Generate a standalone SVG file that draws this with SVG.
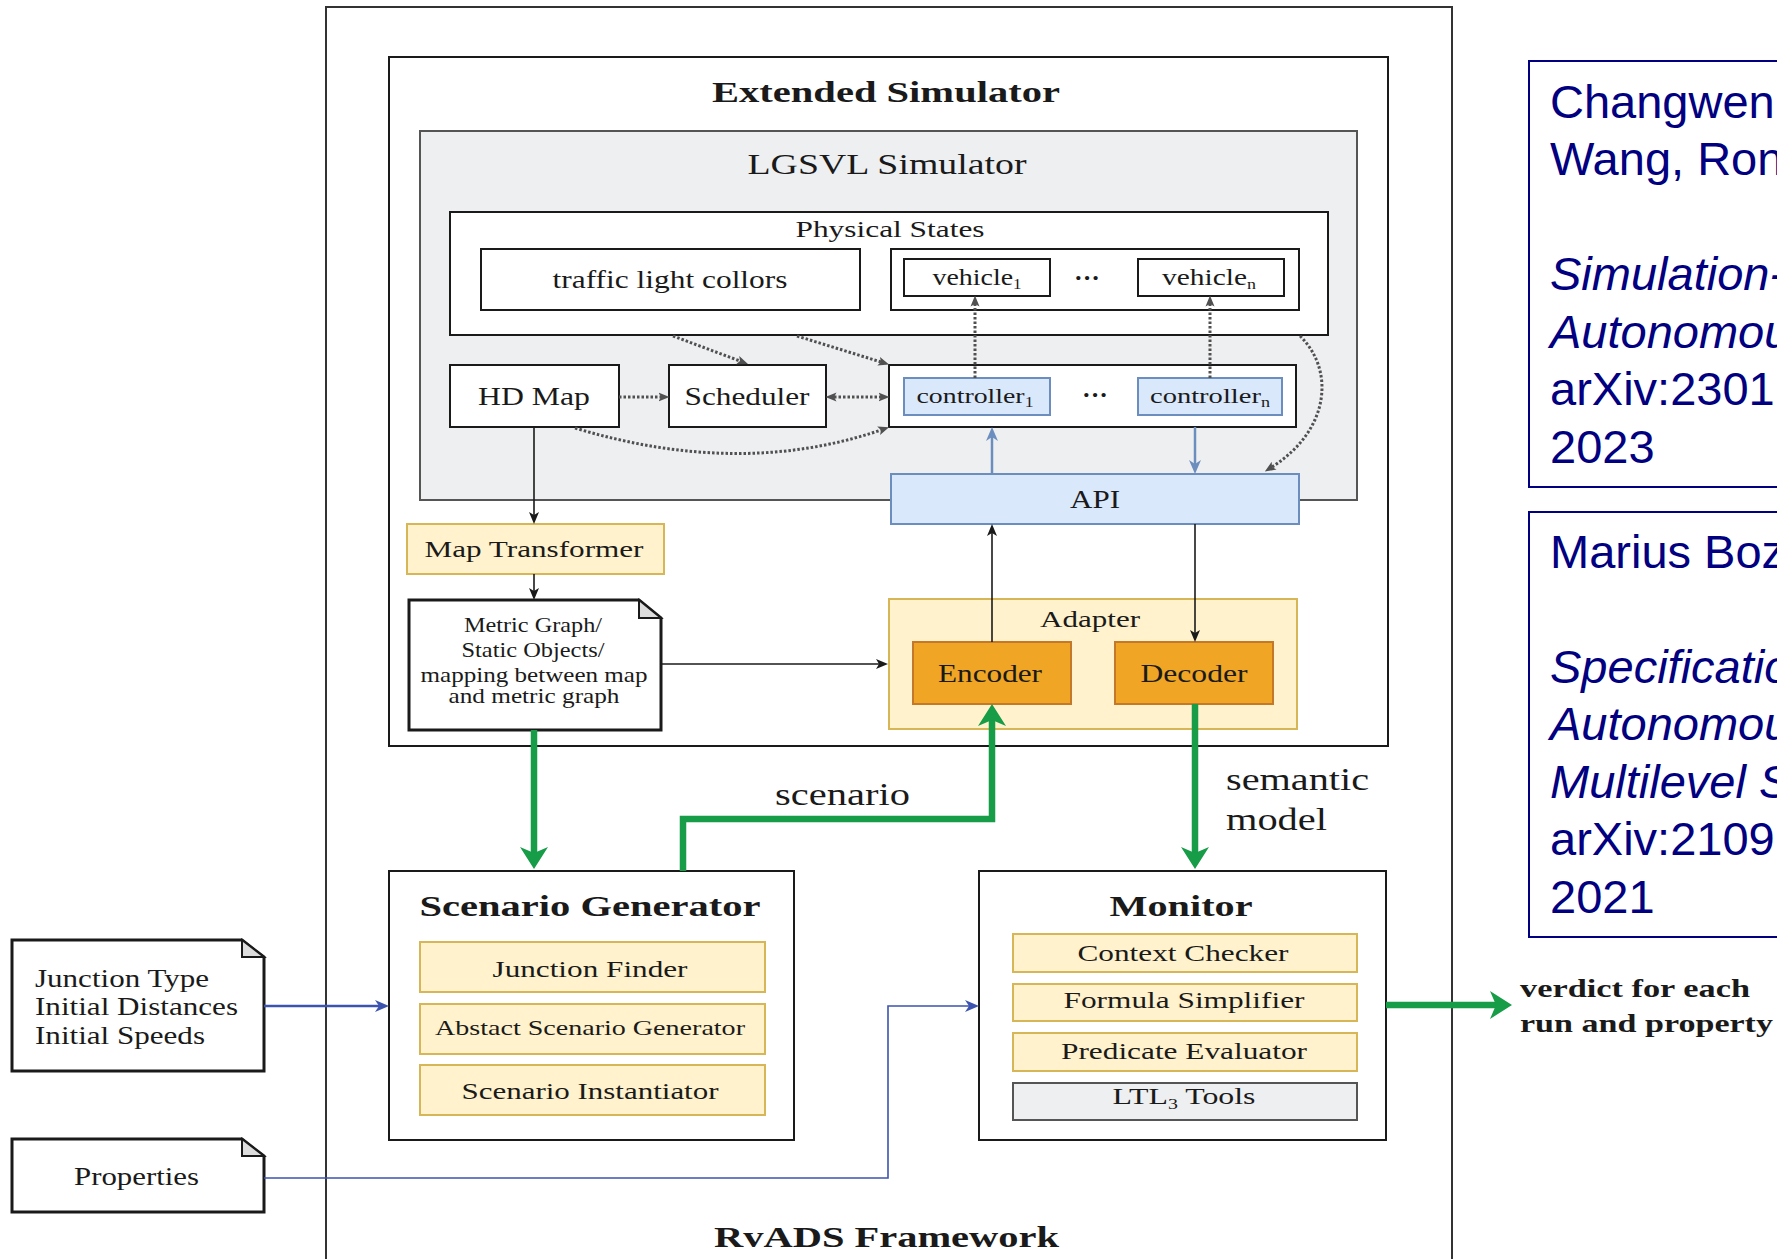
<svg xmlns="http://www.w3.org/2000/svg" width="1777" height="1259" viewBox="0 0 1777 1259">
  <style>
    .t { font-family: "Liberation Serif", "Times New Roman", serif; fill: #1a1a1a; }
    .m { text-anchor: middle; }
    .b { font-weight: bold; }
    .ref { font-family: "Liberation Sans", Arial, sans-serif; font-size: 47px; fill: #000080; }
    .it { font-style: italic; }
    .box { fill: #ffffff; stroke: #1a1a1a; stroke-width: 2; }
    .sim { fill: #eeeff1; stroke: #555555; stroke-width: 2; }
    .yel { fill: #fff2cc; stroke: #d6b656; stroke-width: 2; }
    .blu { fill: #dae8fc; stroke: #6c8ebf; stroke-width: 2; }
    .ora { fill: #f0a524; stroke: #c4782a; stroke-width: 2; }
    .grey { fill: #eeeff1; stroke: #555555; stroke-width: 2; }
    .doc { fill: #ffffff; stroke: #1a1a1a; stroke-width: 3; stroke-linejoin: miter; }
    .fold { fill: #dddddd; stroke: #1a1a1a; stroke-width: 2; }
    .refbox { fill: none; stroke: #000080; stroke-width: 2; }
    .green { fill: none; stroke: #179c48; stroke-width: 6.5; marker-end: url(#mk-green); }
    .blk { fill: none; stroke: #1a1a1a; stroke-width: 1.6; marker-end: url(#mk-black); }
    .bl { fill: none; stroke: #6c8ebf; stroke-width: 2.5; marker-end: url(#mk-blue); }
    .nv { fill: none; stroke: #3d53b0; marker-end: url(#mk-navy); }
    .dot { fill: none; stroke: #505050; stroke-width: 3; stroke-dasharray: 2.5 2; marker-end: url(#mk-dot); }
  </style>
  <defs>
    <marker id="mk-green" viewBox="0 0 22 28" refX="6" refY="14" markerWidth="22" markerHeight="28" markerUnits="userSpaceOnUse" orient="auto">
      <path d="M0,0 L22,14 L0,28 L6,14 z" fill="#179c48"/>
    </marker>
    <marker id="mk-black" viewBox="0 0 12 12" refX="3" refY="6" markerWidth="12" markerHeight="12" markerUnits="userSpaceOnUse" orient="auto">
      <path d="M0,1 L12,6 L0,11 L3,6 z" fill="#1a1a1a"/>
    </marker>
    <marker id="mk-blue" viewBox="0 0 14 14" refX="4" refY="7" markerWidth="14" markerHeight="14" markerUnits="userSpaceOnUse" orient="auto">
      <path d="M0,1 L14,7 L0,13 L4,7 z" fill="#6c8ebf"/>
    </marker>
    <marker id="mk-navy" viewBox="0 0 14 14" refX="4" refY="7" markerWidth="14" markerHeight="14" markerUnits="userSpaceOnUse" orient="auto">
      <path d="M0,1 L14,7 L0,13 L4,7 z" fill="#3d53b0"/>
    </marker>
    <marker id="mk-dot" viewBox="0 0 11 11" refX="2.5" refY="5.5" markerWidth="11" markerHeight="11" markerUnits="userSpaceOnUse" orient="auto-start-reverse">
      <path d="M0,1 L11,5.5 L0,10 L2.5,5.5 z" fill="#505050"/>
    </marker>
  </defs>

  <rect width="1777" height="1259" fill="#ffffff"/>

  <!-- framework and simulator containers -->
  <g id="rvads-framework">
    <rect x="326" y="7" width="1126" height="1300" fill="none" stroke="#333333" stroke-width="2"/>
    <text class="t b" x="714" y="1247" font-size="29" textLength="345" lengthAdjust="spacingAndGlyphs">RvADS Framework</text>
  </g>

  <g id="extended-simulator">
    <rect x="389" y="57" width="999" height="689" class="box"/>
    <text class="t m b" x="886" y="102" font-size="30" textLength="348" lengthAdjust="spacingAndGlyphs">Extended Simulator</text>
  </g>

  <g id="lgsvl-simulator">
    <rect x="420" y="131" width="937" height="369" class="sim"/>
    <text class="t m" x="887" y="174" font-size="30" textLength="279" lengthAdjust="spacingAndGlyphs">LGSVL Simulator</text>
  </g>

  <g id="physical-states">
    <rect x="450" y="212" width="878" height="123" class="box"/>
    <text class="t m" x="890" y="237" font-size="24" textLength="189" lengthAdjust="spacingAndGlyphs">Physical States</text>
  </g>

  <g id="traffic-lights">
    <rect x="481" y="249" width="379" height="61" class="box"/>
    <text class="t m" x="670" y="288" font-size="26" textLength="235" lengthAdjust="spacingAndGlyphs">traffic light collors</text>
  </g>

  <g id="vehicles">
    <rect x="891" y="249" width="408" height="61" class="box"/>
    <rect x="904" y="259" width="146" height="37" class="box"/>
    <text class="t m" x="977" y="285" font-size="23" textLength="89" lengthAdjust="spacingAndGlyphs">vehicle<tspan font-size="14" dy="4">1</tspan></text>
    <text class="t m b" x="1087" y="286" font-size="26">···</text>
    <rect x="1138" y="259" width="146" height="37" class="box"/>
    <text class="t m" x="1209" y="285" font-size="23" textLength="94" lengthAdjust="spacingAndGlyphs">vehicle<tspan font-size="14" dy="4">n</tspan></text>
  </g>

  <g id="hd-map">
    <rect x="450" y="365" width="169" height="62" class="box"/>
    <text class="t m" x="534" y="405" font-size="25" textLength="112" lengthAdjust="spacingAndGlyphs">HD Map</text>
  </g>

  <g id="scheduler">
    <rect x="669" y="365" width="157" height="62" class="box"/>
    <text class="t m" x="747" y="405" font-size="25" textLength="125" lengthAdjust="spacingAndGlyphs">Scheduler</text>
  </g>

  <g id="controllers">
    <rect x="889" y="365" width="407" height="62" class="box"/>
    <rect x="904" y="378" width="146" height="37" class="blu"/>
    <text class="t m" x="975" y="403" font-size="22" textLength="117" lengthAdjust="spacingAndGlyphs">controller<tspan font-size="14" dy="4">1</tspan></text>
    <text class="t m b" x="1095" y="403" font-size="26">···</text>
    <rect x="1138" y="378" width="144" height="37" class="blu"/>
    <text class="t m" x="1210" y="403" font-size="22" textLength="120" lengthAdjust="spacingAndGlyphs">controller<tspan font-size="14" dy="4">n</tspan></text>
  </g>

  <g id="api">
    <rect x="891" y="474" width="408" height="50" class="blu"/>
    <text class="t m" x="1095" y="508" font-size="25" textLength="50" lengthAdjust="spacingAndGlyphs">API</text>
  </g>

  <g id="map-transformer">
    <rect x="407" y="524" width="257" height="50" class="yel"/>
    <text class="t m" x="534" y="557" font-size="24" textLength="219" lengthAdjust="spacingAndGlyphs">Map Transformer</text>
  </g>

  <g id="metric-graph">
    <path d="M409,600 H639 L661,618 V730 H409 Z" class="doc"/>
    <path d="M639,600 V618 H661 Z" class="fold"/>
    <text class="t m" x="533" y="632" font-size="21" textLength="138" lengthAdjust="spacingAndGlyphs">Metric Graph/</text>
    <text class="t m" x="533" y="657" font-size="21" textLength="143" lengthAdjust="spacingAndGlyphs">Static Objects/</text>
    <text class="t m" x="534" y="682" font-size="21" textLength="227" lengthAdjust="spacingAndGlyphs">mapping between map</text>
    <text class="t m" x="534" y="703" font-size="21" textLength="171" lengthAdjust="spacingAndGlyphs">and metric graph</text>
  </g>

  <g id="adapter">
    <rect x="889" y="599" width="408" height="130" class="yel"/>
    <text class="t m" x="1090" y="627" font-size="24" textLength="100" lengthAdjust="spacingAndGlyphs">Adapter</text>
  </g>

  <g id="encoder">
    <rect x="913" y="642" width="158" height="62" class="ora"/>
    <text class="t m" x="990" y="682" font-size="26" textLength="104" lengthAdjust="spacingAndGlyphs">Encoder</text>
  </g>

  <g id="decoder">
    <rect x="1115" y="642" width="158" height="62" class="ora"/>
    <text class="t m" x="1194" y="682" font-size="26" textLength="107" lengthAdjust="spacingAndGlyphs">Decoder</text>
  </g>

  <g id="scenario-generator">
    <rect x="389" y="871" width="405" height="269" class="box"/>
    <text class="t m b" x="590" y="916" font-size="29" textLength="341" lengthAdjust="spacingAndGlyphs">Scenario Generator</text>
    <rect x="420" y="942" width="345" height="50" class="yel"/>
    <text class="t m" x="590" y="977" font-size="24" textLength="195" lengthAdjust="spacingAndGlyphs">Junction Finder</text>
    <rect x="420" y="1004" width="345" height="50" class="yel"/>
    <text class="t m" x="590" y="1035" font-size="22" textLength="310" lengthAdjust="spacingAndGlyphs">Abstact Scenario Generator</text>
    <rect x="420" y="1065" width="345" height="50" class="yel"/>
    <text class="t m" x="590" y="1099" font-size="24" textLength="257" lengthAdjust="spacingAndGlyphs">Scenario Instantiator</text>
  </g>

  <g id="monitor">
    <rect x="979" y="871" width="407" height="269" class="box"/>
    <text class="t m b" x="1181" y="916" font-size="29" textLength="143" lengthAdjust="spacingAndGlyphs">Monitor</text>
    <rect x="1013" y="934" width="344" height="38" class="yel"/>
    <text class="t m" x="1183" y="961" font-size="24" textLength="211" lengthAdjust="spacingAndGlyphs">Context Checker</text>
    <rect x="1013" y="984" width="344" height="37" class="yel"/>
    <text class="t m" x="1184" y="1008" font-size="24" textLength="241" lengthAdjust="spacingAndGlyphs">Formula Simplifier</text>
    <rect x="1013" y="1033" width="344" height="38" class="yel"/>
    <text class="t m" x="1184" y="1059" font-size="24" textLength="246" lengthAdjust="spacingAndGlyphs">Predicate Evaluator</text>
    <rect x="1013" y="1083" width="344" height="37" class="grey"/>
    <text class="t m" x="1184" y="1104" font-size="24" textLength="143" lengthAdjust="spacingAndGlyphs">LTL<tspan font-size="15" dy="5">3</tspan><tspan dy="-5"> Tools</tspan></text>
  </g>

  <g id="scenario-inputs">
    <path d="M12,940 H242 L264,957 V1071 H12 Z" class="doc"/>
    <path d="M242,940 V957 H264 Z" class="fold"/>
    <text class="t" x="35" y="987" font-size="25" textLength="174" lengthAdjust="spacingAndGlyphs">Junction Type</text>
    <text class="t" x="35" y="1015" font-size="25" textLength="203" lengthAdjust="spacingAndGlyphs">Initial Distances</text>
    <text class="t" x="35" y="1044" font-size="25" textLength="170" lengthAdjust="spacingAndGlyphs">Initial Speeds</text>
  </g>

  <g id="properties">
    <path d="M12,1139 H242 L264,1156 V1212 H12 Z" class="doc"/>
    <path d="M242,1139 V1156 H264 Z" class="fold"/>
    <text class="t" x="74" y="1185" font-size="25" textLength="125" lengthAdjust="spacingAndGlyphs">Properties</text>
  </g>

  <g id="verdict-label">
    <text class="t b" x="1520" y="997" font-size="25" textLength="230" lengthAdjust="spacingAndGlyphs">verdict for each</text>
    <text class="t b" x="1520" y="1032" font-size="25" textLength="253" lengthAdjust="spacingAndGlyphs">run and property</text>
  </g>

  <g id="flow-labels">
    <text class="t" x="775" y="805" font-size="31" textLength="135" lengthAdjust="spacingAndGlyphs">scenario</text>
    <text class="t" x="1226" y="790" font-size="31" textLength="143" lengthAdjust="spacingAndGlyphs">semantic</text>
    <text class="t" x="1226" y="830" font-size="31" textLength="101" lengthAdjust="spacingAndGlyphs">model</text>
  </g>

  <!-- citation panels on the right -->
  <g id="citation-2023">
    <rect x="1529" y="61" width="300" height="426" class="refbox"/>
    <text class="ref" x="1550" y="118">Changwen</text>
    <text class="ref" x="1550" y="175">Wang, Ron</text>
    <text class="ref it" x="1550" y="290">Simulation-</text>
    <text class="ref it" x="1550" y="348">Autonomou</text>
    <text class="ref" x="1550" y="405">arXiv:2301</text>
    <text class="ref" x="1550" y="463">2023</text>
  </g>

  <g id="citation-2021">
    <rect x="1529" y="512" width="300" height="425" class="refbox"/>
    <text class="ref" x="1550" y="568">Marius Boz</text>
    <text class="ref it" x="1550" y="683">Specificatio</text>
    <text class="ref it" x="1550" y="740">Autonomou</text>
    <text class="ref it" x="1550" y="798">Multilevel S</text>
    <text class="ref" x="1550" y="855">arXiv:2109</text>
    <text class="ref" x="1550" y="913">2021</text>
  </g>

  <!-- connectors -->
  <g id="connectors">
    <!-- dotted data dependencies inside the simulator -->
    <path class="dot" d="M975,378 V304"/>
    <path class="dot" d="M1210,378 V304"/>
    <path class="dot" d="M673,336 L740,361"/>
    <path class="dot" d="M797,336 L881,362"/>
    <path class="dot" d="M619,397 H661"/>
    <path class="dot" d="M834,397 H881" marker-start="url(#mk-dot)"/>
    <path class="dot" d="M575,428 Q740,478 881,430"/>
    <path class="dot" d="M1300,336 C1335,370 1330,430 1272,467"/>

    <!-- controller / API -->
    <path class="bl" d="M992,474 V437"/>
    <path class="bl" d="M1195,427 V464"/>

    <!-- thin black flows -->
    <path class="blk" d="M534,427 V515"/>
    <path class="blk" d="M534,574 V591"/>
    <path class="blk" d="M661,664 H879" stroke="#444444" stroke-width="2"/>
    <path class="blk" d="M992,642 V533"/>
    <path class="blk" d="M1195,524 V633"/>

    <!-- inputs -->
    <path class="nv" d="M264,1006 H379" stroke-width="2.5"/>
    <path class="nv" d="M264,1178 H888 V1006 H969" stroke-width="1.6"/>

    <!-- main green flows -->
    <path class="green" d="M534,730 V853"/>
    <path class="green" d="M683,871 V819 H992 V720"/>
    <path class="green" d="M1195,704 V853"/>
    <path class="green" d="M1386,1005 H1496"/>
  </g>
</svg>
